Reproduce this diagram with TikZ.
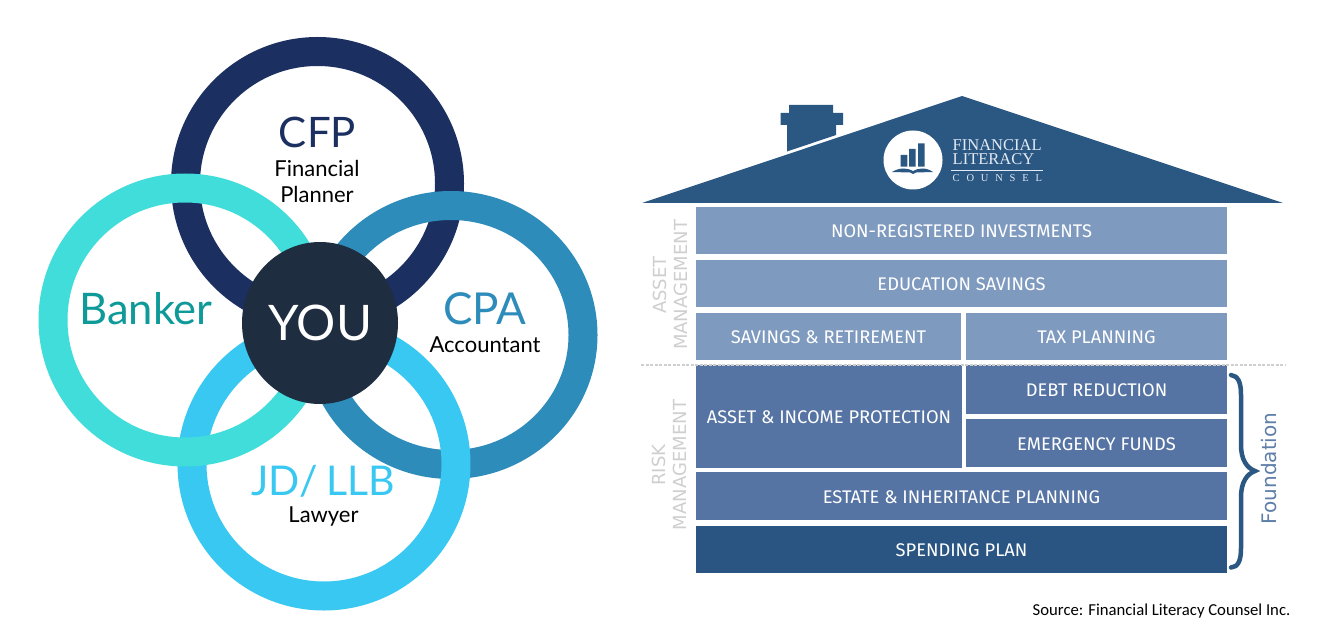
\documentclass[tikz,border=0pt]{standalone}
\usepackage{fontspec}
\setmainfont{Lato}
\newfontfamily\boxfont{Fira Sans}
\newfontfamily\sidefont{DejaVu Sans}
\newfontfamily\logofont{Liberation Serif}
\newfontfamily\srcfont{Carlito}
\usetikzlibrary{shapes.geometric}
\definecolor{cfpc}{HTML}{1B2F61}
\definecolor{bankc}{HTML}{40DDDB}
\definecolor{bankt}{HTML}{0F9A9A}
\definecolor{cpac}{HTML}{2E8CBB}
\definecolor{jdc}{HTML}{38C8F2}
\definecolor{youc}{HTML}{1F2D40}
\definecolor{roofc}{HTML}{2B5783}
\definecolor{lightb}{HTML}{7F9ABF}
\definecolor{midb}{HTML}{5674A3}
\definecolor{darkb}{HTML}{2A5582}
\definecolor{greyt}{HTML}{CFCFCF}
\definecolor{foundt}{HTML}{5E7FA8}
\definecolor{logol}{HTML}{E2EAF4}
\newcommand{\fs}[1]{\fontsize{#1}{#1}\selectfont}
\tikzset{
  ring/.style={circle,draw=#1,line width=29pt,minimum size=264pt,inner sep=0pt},
  big/.style={text=#1,inner sep=0pt},
  small/.style={text=black,font=\fs{22},inner sep=0pt,align=center},
  block/.style={fill=#1,text=white,inner sep=0pt,font=\boxfont\fs{18.3},text height=14.4pt,text depth=0pt},
  side/.style={text=greyt,font=\sidefont\fs{18},rotate=90,align=center,inner sep=0pt},
  logot/.style={text=logol,inner sep=0pt,anchor=west},
}
\begin{document}
\begin{tikzpicture}[x=1pt,y=-1pt]
\useasboundingbox (0,0) rectangle (1337,644);
\fill[white] (0,0) rectangle (1337,644);
% rings
\node[ring=cfpc] (cfp) at (317.5,183.5) {};
\node[ellipse,draw=cpac,line width=29pt,minimum width=264pt,minimum height=259pt,inner sep=0pt] (cpa) at (451,335) {};
\node[ring=jdc] (jd) at (324,464) {};
\node[ring=bankc] (bank) at (185,320) {};
\node[ellipse,fill=youc,minimum width=156pt,minimum height=162pt,inner sep=0pt,text=white,font=\fs{49},text height=35pt,text depth=0pt] (you) at (320,323) {YOU};
% ring labels
\node[big=cfpc,font=\fs{42}] (cfpt) at (317.5,132) {CFP};
\node[small] (cfps) at (317,181) {Financial\\[4pt]Planner};
\node[big=bankt,font=\fs{43.5}] (bankl) at (146,309) {Banker};
\node[big=cpac,font=\fs{44}] (cpat) at (485,309) {CPA};
\node[small] (cpas) at (485,345) {Accountant};
\node[big=jdc,font=\fs{41}] (jdt) at (323,481) {JD/\kern-2pt{} LLB};
\node[small] (jds) at (323.5,516.5) {Lawyer};
% house
\fill[roofc] (642,203) -- (962,96) -- (1283,203) -- cycle;
\fill[roofc] (789,105) rectangle (833,113) (780.5,113) rectangle (843,125)
  (787,125) -- (836,125) -- (836,135) -- (787,151.5) -- cycle;
\node[circle,fill=white,minimum size=59pt,inner sep=0pt] (logo) at (913,160) {};
\fill[roofc] (900.7,155) rectangle (907.3,166.7) (909,149) rectangle (915.7,166.7) (918,143.3) rectangle (924.7,166.7);
\fill[roofc] (892,172) .. controls (900,167) and (908,168) .. (913,171) .. controls (918,168) and (926,167) .. (933,172) -- (916,172.5) -- (913,174) -- (910,172.5) -- cycle;
\node[logot,font=\logofont\fs{16.5}] (lg1) at (952.5,145) {FINANCIAL};
\node[logot,font=\logofont\fs{16.5}] (lg2) at (952.5,159) {LITERACY};
\fill[logol] (951,169.6) rectangle (1043,170.6);
\node[logot,font=\logofont\fs{10.5}] (lg3) at (952.5,178.5) {C\hspace{6.8pt}O\hspace{6.8pt}U\hspace{6.8pt}N\hspace{6.8pt}S\hspace{6.8pt}E\hspace{6.8pt}L};
% blocks
\node[block=lightb,minimum width=531pt,minimum height=47pt] (nr) at (961.5,230.5) {NON-REGISTERED INVESTMENTS};
\node[block=lightb,minimum width=531pt,minimum height=47pt] (ed) at (961.5,283.5) {EDUCATION SAVINGS};
\node[block=lightb,minimum width=265pt,minimum height=47pt] (sr) at (828.5,336.5) {SAVINGS \& RETIREMENT};
\node[block=lightb,minimum width=261pt,minimum height=47pt] (tx) at (1096.5,336.5) {TAX PLANNING};
\node[block=midb,minimum width=266pt,minimum height=103pt] (ai) at (829,416.5) {ASSET \& INCOME PROTECTION};
\node[block=midb,minimum width=261pt,minimum height=49pt] (db) at (1096.5,389.5) {DEBT REDUCTION};
\node[block=midb,minimum width=261pt,minimum height=48pt] (em) at (1096.5,443) {EMERGENCY FUNDS};
\node[block=midb,minimum width=531pt,minimum height=48pt] (es) at (961.5,496) {ESTATE \& INHERITANCE PLANNING};
\node[block=darkb,minimum width=531pt,minimum height=47pt] (sp) at (961.5,549.5) {SPENDING PLAN};
\draw[greyt,line width=1.4pt,dash pattern=on 3pt off 1.5pt] (641,365) -- (1285,365);
% side labels
\node[side] (am) at (670,285) {ASSET\\[3pt]MANAGEMENT};
\node[side] (rm) at (669,465) {RISK\\[3pt]MANAGEMENT};
\draw[roofc,line width=4.5pt,line cap=round] (1231,375) .. controls (1238,376) and (1241,382) .. (1241,395) -- (1241,445) .. controls (1241,460) and (1247,468) .. (1255,471) .. controls (1247,474) and (1241,482) .. (1241,497) -- (1241,548) .. controls (1241,561) and (1238,567) .. (1231,567.5);
\node[text=foundt,font=\sidefont\fs{20},rotate=90,inner sep=0pt] (fd) at (1269,468.5) {Foundation};
\node[font=\srcfont\fs{16.7},text=black,inner sep=0pt] (src) at (1161.5,611) {Source: Financial Literacy Counsel Inc.};
\end{tikzpicture}
\end{document}
